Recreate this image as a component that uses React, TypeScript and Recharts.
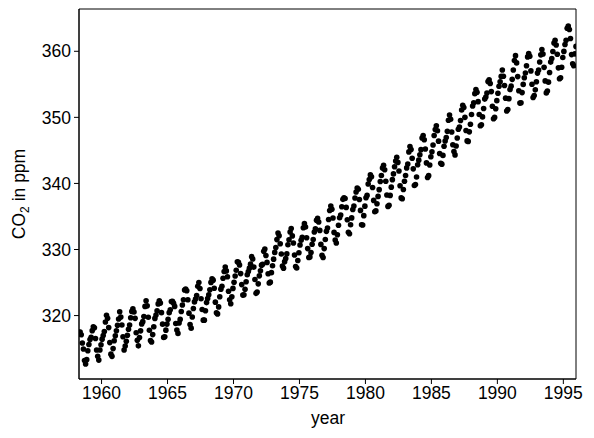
import React from "react";
import { ScatterChart, Scatter, XAxis, YAxis, ReferenceArea } from "recharts";

// Mauna Loa monthly mean CO2 (ppm), one row per year, 1958 starts in April
const firstYear = 1958;
const firstMonth = 4;
const monthlyPpm: number[][] = [
  [317.45, 317.5, 317.1, 315.86, 314.93, 313.2, 312.66, 313.33, 314.67],
  [315.62, 316.38, 316.71, 317.72, 318.29, 318.15, 316.54, 314.8, 313.84, 313.26, 314.8, 315.58],
  [316.43, 316.97, 317.58, 319.02, 320.03, 319.59, 318.18, 315.91, 314.16, 313.83, 315.0, 316.19],
  [316.93, 317.7, 318.54, 319.48, 320.58, 319.77, 318.57, 316.79, 314.8, 315.38, 316.1, 317.01],
  [317.94, 318.56, 319.68, 320.63, 321.01, 320.55, 319.58, 317.4, 316.26, 315.42, 316.69, 317.69],
  [318.74, 319.08, 319.86, 321.39, 322.25, 321.47, 319.74, 317.77, 316.21, 315.99, 317.12, 318.31],
  [319.57, 320.07, 320.73, 321.77, 322.25, 321.89, 320.44, 318.7, 316.7, 316.79, 317.79, 318.71],
  [319.44, 320.44, 320.89, 322.13, 322.16, 321.87, 321.39, 318.81, 317.81, 317.3, 318.87, 319.42],
  [320.62, 321.59, 322.39, 323.87, 324.01, 323.75, 322.39, 320.37, 318.64, 318.1, 319.79, 321.08],
  [322.07, 322.5, 323.04, 324.42, 325.0, 324.09, 322.55, 320.92, 319.31, 319.31, 320.72, 321.96],
  [322.57, 323.15, 323.89, 325.02, 325.57, 325.36, 324.14, 322.03, 320.41, 320.25, 321.31, 322.84],
  [324.0, 324.42, 325.64, 326.66, 327.34, 326.76, 325.88, 323.67, 322.38, 321.78, 322.85, 324.11],
  [325.03, 325.99, 326.87, 328.13, 328.07, 327.66, 326.35, 324.69, 323.1, 323.16, 323.98, 325.13],
  [326.17, 326.68, 327.18, 327.78, 328.92, 328.57, 327.34, 325.46, 323.36, 323.57, 324.8, 326.01],
  [326.77, 327.63, 327.75, 329.72, 330.07, 329.09, 328.05, 326.32, 324.93, 325.06, 326.5, 327.55],
  [328.54, 329.56, 330.3, 331.5, 332.48, 332.07, 330.87, 329.31, 327.51, 327.18, 328.16, 328.64],
  [329.35, 330.71, 331.48, 332.65, 333.16, 332.06, 330.99, 329.17, 327.41, 327.2, 328.33, 329.5],
  [330.68, 331.41, 331.85, 333.29, 333.91, 333.4, 331.78, 330.14, 328.78, 328.88, 329.53, 330.79],
  [331.52, 332.66, 333.13, 334.41, 334.71, 334.17, 332.89, 330.77, 329.14, 328.78, 330.14, 331.52],
  [332.75, 333.24, 334.53, 335.9, 336.57, 336.1, 334.76, 332.59, 331.42, 330.98, 332.24, 333.68],
  [334.8, 335.22, 336.47, 337.59, 337.84, 337.72, 336.37, 334.51, 332.6, 332.38, 333.75, 334.78],
  [336.05, 336.59, 337.79, 338.71, 339.3, 339.12, 337.56, 335.92, 333.75, 333.7, 335.12, 336.56],
  [337.84, 338.19, 339.91, 340.6, 341.29, 341.0, 339.39, 337.43, 335.72, 335.84, 336.93, 338.04],
  [339.06, 340.3, 341.21, 342.33, 342.74, 342.08, 340.32, 338.26, 336.52, 336.68, 338.19, 339.44],
  [340.57, 341.44, 342.53, 343.39, 343.96, 343.18, 341.88, 339.65, 337.81, 337.69, 339.09, 340.32],
  [341.2, 342.35, 342.93, 344.77, 345.58, 345.14, 343.81, 342.21, 339.69, 339.82, 340.98, 342.82],
  [343.52, 344.33, 345.11, 346.88, 347.25, 346.62, 345.22, 343.11, 340.9, 341.18, 342.8, 344.04],
  [344.79, 345.82, 347.25, 348.17, 348.74, 347.97, 346.4, 344.52, 343.05, 342.92, 344.24, 345.62],
  [346.43, 346.94, 347.88, 349.57, 350.35, 349.72, 347.78, 345.86, 344.84, 344.32, 345.67, 346.88],
  [348.19, 348.55, 349.52, 351.12, 351.84, 351.49, 350.0, 348.02, 346.44, 346.36, 347.81, 348.96],
  [350.43, 351.73, 352.22, 353.59, 354.22, 353.79, 352.38, 350.43, 348.73, 348.88, 350.07, 351.34],
  [352.76, 353.07, 353.68, 355.42, 355.67, 355.13, 353.9, 351.67, 349.8, 349.99, 351.3, 352.53],
  [353.66, 354.7, 355.39, 356.2, 357.16, 356.22, 354.82, 352.91, 350.96, 351.18, 352.83, 354.21],
  [354.72, 355.75, 357.16, 358.6, 359.34, 358.24, 356.17, 354.03, 352.16, 352.21, 353.75, 354.99],
  [355.99, 356.72, 357.81, 359.15, 359.66, 359.25, 357.03, 355.0, 353.01, 353.31, 354.16, 355.4],
  [356.7, 357.16, 358.38, 359.46, 360.28, 359.6, 357.57, 355.52, 353.7, 353.98, 355.33, 356.8],
  [358.36, 358.91, 359.97, 361.26, 361.68, 360.95, 359.55, 357.49, 355.84, 356.0, 357.59, 359.05],
  [359.98, 361.03, 361.66, 363.48, 363.82, 363.3, 361.94, 359.5, 358.11, 357.8, 359.61, 360.74],
];

const xTicks = [1960, 1965, 1970, 1975, 1980, 1985, 1990, 1995];
const yTicks = [320, 330, 340, 350, 360];
const xDomain = [1958.29, 1995.96];
const yDomain = [310.4, 366.4];

const points = monthlyPpm.flatMap((row, i) =>
  row.map((ppm, j) => {
    const month = (i === 0 ? firstMonth : 1) + j;
    return { x: firstYear + i + (month - 0.5) / 12, y: ppm };
  })
);

const font = "'Liberation Sans', Arial, sans-serif";
const fontSize = 17.5;
const tickStyle = { fill: "#000", fontSize, fontFamily: font };

const Dot = (props: any) => <circle cx={props.cx} cy={props.cy} r={2.8} fill="#000" />;

const YLabel = () => (
  <text
    x={0}
    y={0}
    transform="translate(25, 194) rotate(-90)"
    textAnchor="middle"
    fontSize={fontSize}
    fontFamily={font}
    fill="#000"
  >
    CO
    <tspan fontSize={12} dy={4}>2</tspan>
    <tspan dy={-4}> in ppm</tspan>
  </text>
);

const XLabel = () => (
  <text x={328} y={424} textAnchor="middle" fontSize={fontSize} fontFamily={font} fill="#000">
    year
  </text>
);

export default function App() {
  return (
    <div style={{ position: "absolute", left: 0, top: 0, background: "#fff" }}>
      <ScatterChart width={594} height={438} margin={{ top: 9, right: 18, bottom: 0, left: 0 }}>
        <XAxis
          type="number"
          dataKey="x"
          domain={xDomain}
          ticks={xTicks}
          allowDataOverflow
          height={59}
          tickSize={5}
          tickMargin={3}
          stroke="#000"
          tick={tickStyle}
          label={<XLabel />}
        />
        <YAxis
          type="number"
          dataKey="y"
          domain={yDomain}
          ticks={yTicks}
          allowDataOverflow
          width={79}
          tickSize={5}
          tickMargin={3}
          stroke="#000"
          tick={tickStyle}
          label={<YLabel />}
        />
        <Scatter data={points} shape={<Dot />} isAnimationActive={false} />
        {/* plot frame */}
        <ReferenceArea
          x1={xDomain[0]}
          x2={xDomain[1]}
          y1={yDomain[0]}
          y2={yDomain[1]}
          fill="none"
          fillOpacity={0}
          stroke="#000"
          strokeWidth={1}
          ifOverflow="visible"
        />
      </ScatterChart>
    </div>
  );
}
